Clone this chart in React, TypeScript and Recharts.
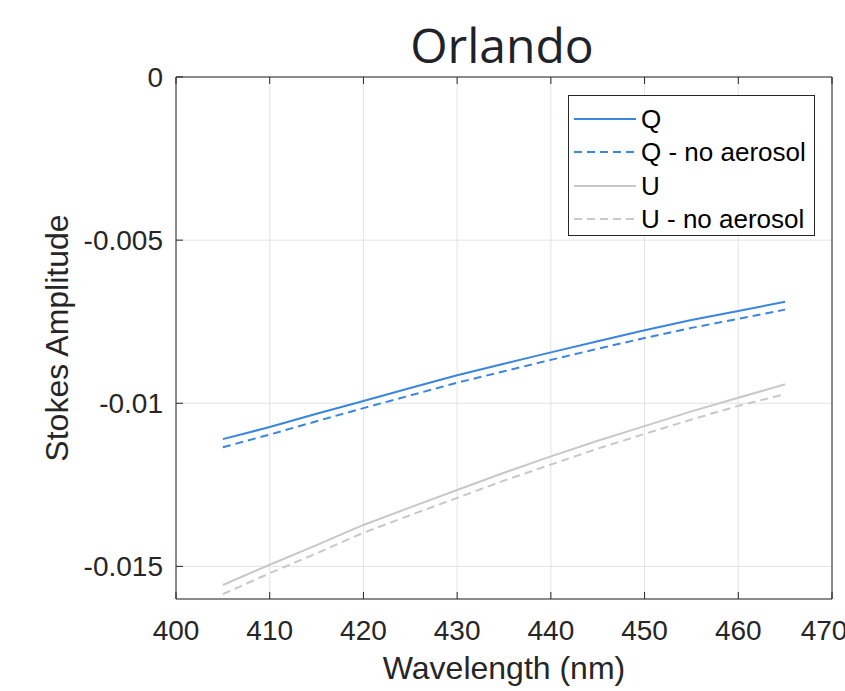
import { LineChart, Line, XAxis, YAxis, CartesianGrid } from 'recharts'

const wavelengths = [405, 410, 415, 420, 425, 430, 435, 440, 445, 450, 455, 460, 465]
const qValues = [-0.0111, -0.01073, -0.01032, -0.00993, -0.00953, -0.00914, -0.00879, -0.00844, -0.0081, -0.00776, -0.00745, -0.00717, -0.00689]
const qNoAerosol = [-0.01135, -0.01096, -0.01055, -0.01015, -0.00976, -0.00937, -0.00902, -0.00867, -0.00833, -0.008, -0.00769, -0.00741, -0.00713]
const uValues = [-0.01557, -0.01495, -0.01435, -0.01373, -0.01319, -0.01266, -0.01213, -0.01163, -0.01115, -0.0107, -0.01025, -0.00983, -0.00942]
const uNoAerosol = [-0.01585, -0.01521, -0.0146, -0.01397, -0.01343, -0.0129, -0.01237, -0.01188, -0.01139, -0.01094, -0.0105, -0.01008, -0.00972]

const xTicks = [400, 410, 420, 430, 440, 450, 460, 470]
const yTicks = [0, -0.005, -0.01, -0.015]

const data = wavelengths.map((w, i) => ({
  w,
  q: qValues[i],
  qNo: qNoAerosol[i],
  u: uValues[i],
  uNo: uNoAerosol[i],
}))

const FONT = '"Liberation Sans", Arial, sans-serif'
const AXIS = '#262626'
const BLUE = '#3a86de'
const GRAY = '#c8c8c8'

const legendItems = [
  { label: 'Q', color: BLUE, dash: undefined },
  { label: 'Q - no aerosol', color: BLUE, dash: '8 5' },
  { label: 'U', color: GRAY, dash: undefined },
  { label: 'U - no aerosol', color: GRAY, dash: '8 5' },
]

// legend drawn as a plain box over the plot (Recharts' Legend would eat plot space)
function LegendBox() {
  return (
    <div
      style={{
        position: 'absolute',
        left: 568,
        top: 95,
        border: `1px solid ${AXIS}`,
        background: '#fff',
        width: 247,
        height: 141,
        boxSizing: 'border-box',
        paddingTop: 6,
        fontFamily: FONT,
        color: '#000',
      }}
    >
      {legendItems.map((it) => (
        <div key={it.label} style={{ display: 'flex', alignItems: 'center', height: 33.5 }}>
          <svg width={70} height={10} style={{ display: 'block' }}>
            <line x1={5} x2={67} y1={5} y2={5} stroke={it.color} strokeWidth={2} strokeDasharray={it.dash} />
          </svg>
          <span style={{ fontSize: 26, marginLeft: 2, lineHeight: '30px' }}>{it.label}</span>
        </div>
      ))}
    </div>
  )
}

const fmtY = (v: number) => (v === 0 ? '0' : String(v))

export default function App() {
  return (
    <div style={{ position: 'absolute', left: 0, top: 0, width: 845, height: 691, background: '#fff', overflow: 'hidden' }}>
      <LineChart
        width={845}
        height={691}
        data={data}
        margin={{ top: 76, right: 12, bottom: 0, left: 0 }}
        style={{ position: 'absolute', left: 0, top: 0 }}
      >
        <CartesianGrid stroke="#e3e3e3" strokeWidth={1} />
        <XAxis
          dataKey="w"
          type="number"
          domain={[400, 470]}
          ticks={xTicks}
          allowDataOverflow
          height={92}
          stroke={AXIS}
          tickSize={-7}
          tickMargin={28}
          tick={{ fill: AXIS, fontSize: 28, fontFamily: FONT }}
          label={{
            content: () => (
              <text x={504} y={679} textAnchor="middle" fill={AXIS} fontSize={32} fontFamily={FONT}>
                Wavelength (nm)
              </text>
            ),
          }}
        />
        <XAxis
          xAxisId="t"
          orientation="top"
          dataKey="w"
          type="number"
          domain={[400, 470]}
          ticks={xTicks}
          height={1}
          stroke={AXIS}
          tickSize={-7}
          tickFormatter={() => ''}
        />
        <YAxis
          type="number"
          domain={[-0.016, 0]}
          ticks={yTicks}
          width={176}
          stroke={AXIS}
          tickSize={-7}
          tickMargin={20}
          tickFormatter={fmtY}
          tick={{ fill: AXIS, fontSize: 28, fontFamily: FONT }}
          label={{
            content: () => (
              <text
                x={68}
                y={338}
                transform="rotate(-90 68 338)"
                textAnchor="middle"
                fill={AXIS}
                fontSize={32}
                fontFamily={FONT}
              >
                Stokes Amplitude
              </text>
            ),
          }}
        />
        <YAxis
          yAxisId="r"
          orientation="right"
          type="number"
          domain={[-0.016, 0]}
          ticks={yTicks}
          width={1}
          stroke={AXIS}
          tickSize={-7}
          tickFormatter={() => ''}
        />
        <Line dataKey="q" stroke={BLUE} strokeWidth={2} dot={false} isAnimationActive={false} />
        <Line dataKey="qNo" stroke={BLUE} strokeWidth={2} strokeDasharray="8 5" dot={false} isAnimationActive={false} />
        <Line dataKey="u" stroke={GRAY} strokeWidth={2} dot={false} isAnimationActive={false} />
        <Line dataKey="uNo" stroke={GRAY} strokeWidth={2} strokeDasharray="8 5" dot={false} isAnimationActive={false} />
      </LineChart>
      <div
        style={{
          position: 'absolute',
          left: 0,
          width: 1004,
          top: 15,
          textAlign: 'center',
          fontFamily: '"Open Sans", "Noto Sans", sans-serif',
          fontSize: 48,
          color: '#1f2229',
          lineHeight: '60px',
        }}
      >
        Orlando
      </div>
      <LegendBox />
    </div>
  )
}
